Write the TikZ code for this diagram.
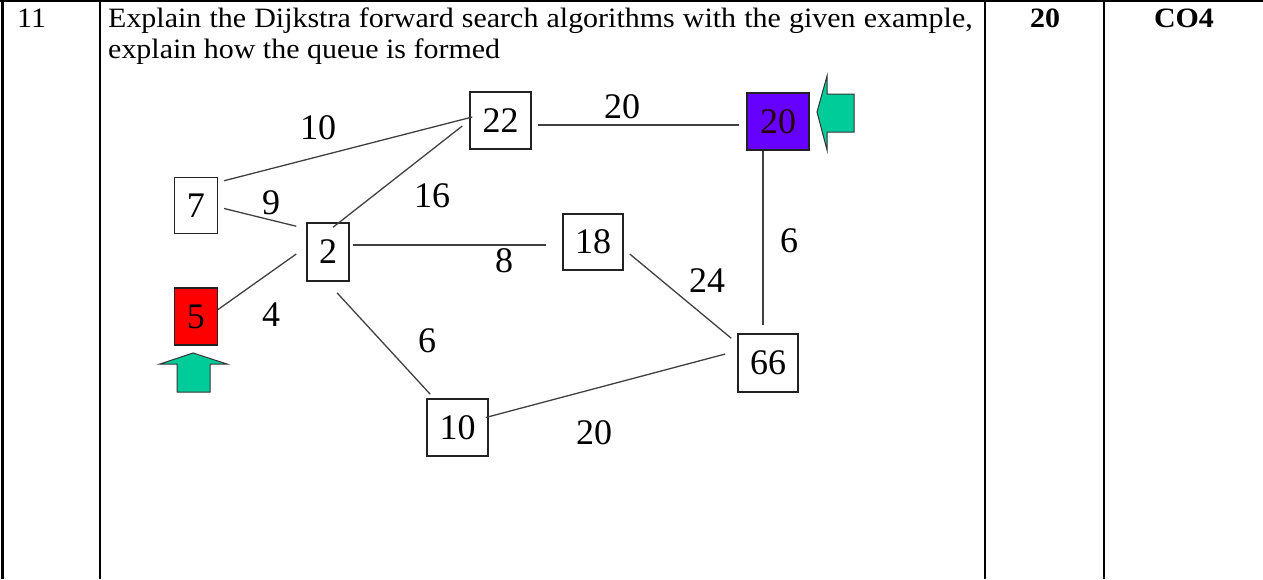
\documentclass[tikz,border=0pt]{standalone}
\usepackage{fontspec}
\setmainfont{Liberation Serif}
\usetikzlibrary{calc}
\definecolor{edgegray}{HTML}{404040}
\definecolor{boxgray}{HTML}{222222}
\definecolor{srcred}{HTML}{FF0000}
\definecolor{goalpurple}{HTML}{6600FF}
\definecolor{arrowgreen}{HTML}{00CC99}
\tikzset{
  vbox/.style={draw=boxgray, line width=1.5pt, inner sep=0pt, minimum width=#1},
  vbox/.default=43pt,
  gnum/.style={font=\fontsize{36}{40}\selectfont},
  glabel/.style={font=\fontsize{36}{40}\selectfont, inner sep=0pt},
  gedge/.style={draw=edgegray, line width=1.3pt},
  tline/.style={draw=black, line width=2.3pt},
  htext/.style={font=\fontsize{28}{32}\selectfont, inner sep=0pt, anchor=base west},
  hbold/.style={font=\fontsize{28}{32}\selectfont\bfseries, inner sep=0pt, anchor=base},
  pointer/.style={fill=arrowgreen, draw=black!80, line width=1pt, line join=miter}
}
\newcommand{\wide}[1]{\scalebox{1.07}[1]{#1}}
\begin{document}
\begin{tikzpicture}[x=1pt,y=-1pt]
\useasboundingbox (0,0) rectangle (1263,579);
% table rules
\coordinate (tl) at (0,1.2);
\coordinate (tr) at (1263,1.2);
\draw[tline] (tl) -- (tr);
\foreach \xx/\nm in {2.5/a,100/b,985/c,1104/d}{
  \coordinate (top\nm) at (\xx,0);
  \coordinate (bot\nm) at (\xx,579);
  \draw[tline] (top\nm) -- (bot\nm);
}
% header texts
\node[htext] (qnum) at (17,27) {\wide{11}};
\node[htext] (qline1) at (108,27) {\wide{\makebox[808pt][s]{Explain the Dijkstra forward search algorithms with the given example,}}};
\node[htext] (qline2) at (108,58) {\wide{explain how the queue is formed}};
\node[hbold] (marks) at (1045,27) {\wide{20}};
\node[hbold] (co) at (1184,27) {\wide{CO4}};
% graph nodes
\node[vbox=43pt, minimum height=56pt, gnum] (n7) at (195.8,205.5) {7};
\node[vbox=42pt, minimum height=58pt, gnum] (n2) at (328,252) {2};
\node[vbox=43pt, minimum height=57pt, gnum, fill=srcred] (n5) at (195.8,316.5) {5};
\node[vbox=61pt, minimum height=57pt, gnum] (n22) at (500.5,120.5) {22};
\node[vbox=62pt, minimum height=57pt, gnum, fill=goalpurple, text=black!85!red] (n20) at (778,121.5) {20};
\node[vbox=60pt, minimum height=56pt, gnum] (n18) at (593,242) {18};
\node[vbox=60pt, minimum height=58pt, gnum] (n66) at (768,363) {66};
\node[vbox=61pt, minimum height=57pt, gnum] (n10) at (457.5,427.5) {10};
% edges
\draw[gedge] ($(n7.north east)+(6,4)$) -- ($(n22.west)+(3,-3.5)$);
\draw[gedge] ($(n7.east)+(6,3)$) -- ($(n2.north west)+(-10,4)$);
\draw[gedge] ($(n5.east)+(0,-7)$) -- ($(n2.west)+(-10,2)$);
\draw[gedge] ($(n2.north)+(5,5)$) -- ($(n22.west)+(-7,5.5)$);
\draw[gedge] ($(n22.east)+(6,4.5)$) -- ($(n20.west)+(-7,3.5)$);
\draw[gedge] ($(n2.east)+(3,-7)$) -- ($(n18.west)+(-16,3)$);
\draw[gedge] ($(n2.south)+(9,11)$) -- ($(n10.north west)+(4,-4)$);
\draw[gedge] ($(n18.east)+(6,12)$) -- ($(n66.north west)+(-6,5)$);
\draw[gedge] ($(n20.south)+(-15,0)$) -- ($(n66.north)+(-5,-8)$);
\draw[gedge] ($(n10.east)+(-3,-10)$) -- ($(n66.west)+(-12,-9)$);
% edge weights
\node[glabel] (w10) at (318,128) {10};
\node[glabel] (w9) at (271,203) {9};
\node[glabel] (w4) at (271,315) {4};
\node[glabel] (w16) at (432,196) {16};
\node[glabel] (w8) at (504,261) {8};
\node[glabel] (w20a) at (622,107) {20};
\node[glabel] (w6a) at (789,241) {6};
\node[glabel] (w24) at (707,281) {24};
\node[glabel] (w6b) at (427,341) {6};
\node[glabel] (w20b) at (594,433) {20};
% pointer arrows
\draw[pointer] (193,353) -- (227,364) -- (210,364) -- (210,392) -- (177,392) -- (177,364) -- (160,364) -- cycle;
\draw[pointer] (817,112) -- (827,76) -- (827,94) -- (854,94) -- (854,132) -- (827,132) -- (827,150) -- cycle;
\end{tikzpicture}
\end{document}
